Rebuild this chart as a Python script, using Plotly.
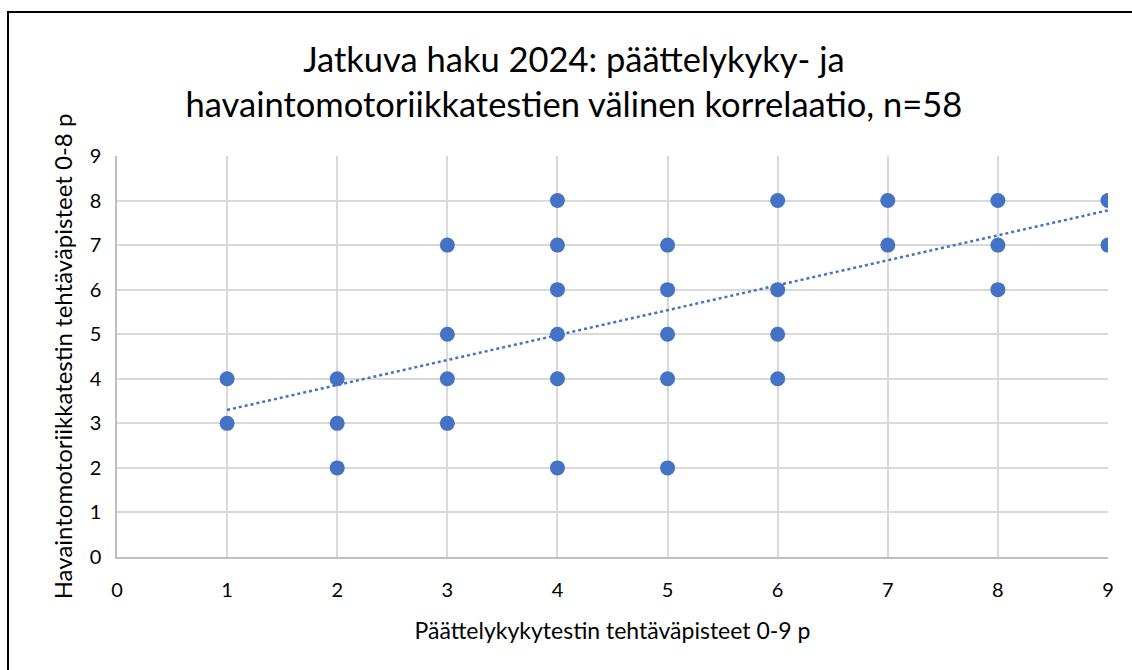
import plotly.graph_objects as go

# Data (distinct visible points)
x_pts = [1, 1,
         2, 2, 2,
         3, 3, 3, 3,
         4, 4, 4, 4, 4, 4,
         5, 5, 5, 5, 5,
         6, 6, 6, 6,
         7, 7,
         8, 8, 8,
         9, 9]
y_pts = [4, 3,
         4, 3, 2,
         7, 5, 4, 3,
         8, 7, 6, 5, 4, 2,
         7, 6, 5, 4, 2,
         8, 6, 5, 4,
         8, 7,
         8, 7, 6,
         8, 7]

# Linear trendline
trend_x = [1, 9]
trend_y = [3.30, 7.78]

title_text = "Jatkuva haku 2024: päättelykyky- ja<br>havaintomotoriikkatestien välinen korrelaatio, n=58"
x_title = "Päättelykykytestin tehtäväpisteet 0-9 p"
y_title = "Havaintomotoriikkatestin tehtäväpisteet 0-8 p"
tick_vals = list(range(0, 10))

BLUE = "#4472C4"
GRID = "#d9d9d9"
FONT = "Lato, 'Open Sans', sans-serif"

fig = go.Figure()
fig.add_trace(go.Scatter(
    x=trend_x, y=trend_y, mode="lines",
    line=dict(color=BLUE, width=2.5, dash="dot"),
    hoverinfo="skip", showlegend=False))
fig.add_trace(go.Scatter(
    x=x_pts, y=y_pts, mode="markers",
    marker=dict(color=BLUE, size=15, line=dict(width=0)),
    showlegend=False))

fig.update_layout(
    width=1132, height=670,
    margin=dict(l=117, r=24, t=156, b=113),
    paper_bgcolor="white", plot_bgcolor="white",
    font=dict(family=FONT, color="#000000"),
    title=dict(text=title_text, x=0.507, xanchor="center", y=0.893, yanchor="middle",
               font=dict(size=34.5, family=FONT, color="#000000")),
    xaxis=dict(range=[0, 9], tickvals=tick_vals, showgrid=True, gridcolor=GRID, gridwidth=1.5,
               zeroline=False, showline=True, linecolor="#bfbfbf", linewidth=1.5,
               ticks="", ticklabelstandoff=14, tickfont=dict(size=20, family=FONT),
               title=dict(text=x_title, font=dict(size=23, family=FONT), standoff=23)),
    yaxis=dict(range=[0, 9], tickvals=tick_vals, showgrid=True, gridcolor=GRID, gridwidth=1.5,
               zeroline=False, showline=True, linecolor="#bfbfbf", linewidth=1.5,
               ticks="", ticklabelstandoff=10, tickfont=dict(size=20, family=FONT),
               title=dict(text=y_title, font=dict(size=24, family=FONT), standoff=10)),
    shapes=[dict(type="rect", xref="paper", yref="paper",
                 x0=(8 - 117) / 991, x1=1.2, y0=-0.5, y1=(557 - 12) / 401,
                 line=dict(color="black", width=2), fillcolor="rgba(0,0,0,0)", layer="above")],
)

fig.write_html("out.html", config={"displayModeBar": False},
               post_script="document.body.style.margin='0';document.body.style.padding='0';")
